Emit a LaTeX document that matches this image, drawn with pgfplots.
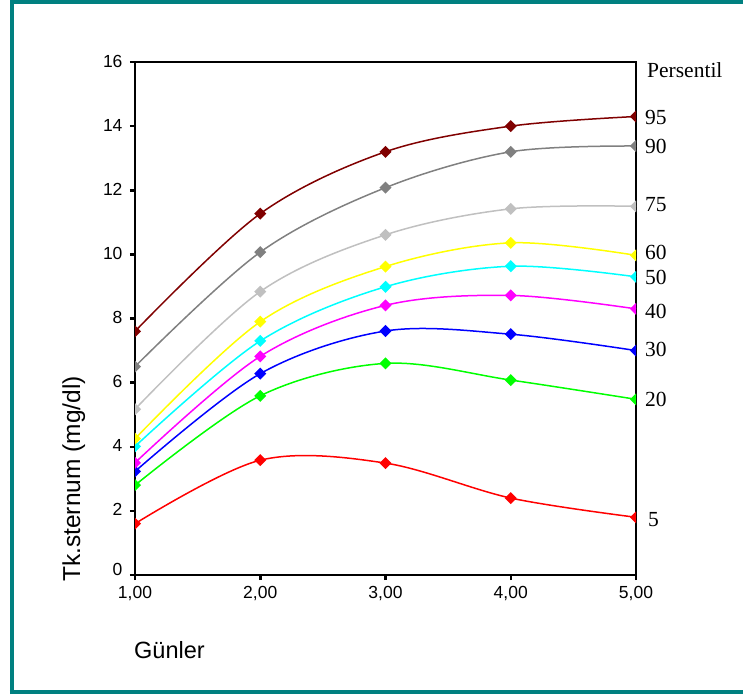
\documentclass[border=0pt]{standalone}
\usepackage{fontspec}
\setmainfont{Liberation Sans}
\newfontfamily\serifl{Liberation Serif}
\usepackage{pgfplots}
\pgfplotsset{compat=1.18}
\definecolor{frameteal}{RGB}{0,128,128}
\definecolor{c95}{RGB}{128,0,0}
\definecolor{c90}{RGB}{128,128,128}
\definecolor{c75}{RGB}{192,192,192}
\definecolor{c60}{RGB}{255,255,0}
\definecolor{c50}{RGB}{0,255,255}
\definecolor{c40}{RGB}{255,0,255}
\definecolor{c30}{RGB}{0,0,255}
\definecolor{c20}{RGB}{0,255,0}
\definecolor{c5}{RGB}{255,0,0}
\tikzset{pctlabel/.style={anchor=west, font=\serifl\fontsize{21.5}{24}\selectfont, inner sep=0pt}}
\begin{document}
\begin{tikzpicture}[x=1pt,y=1pt]
\useasboundingbox (-135,-119) rectangle (608,575);
\begin{scope}[shift={(-135,-119)}]
\draw[frameteal, line width=4pt] (12,0) -- (12,691.5) -- (745,691.5);
\draw[frameteal, line width=4pt] (10,2) -- (745,2);
\node[rotate=90, anchor=base, inner sep=0pt, font=\fontsize{24.5}{28}\selectfont] at (80,215) {Tk.sternum (mg/dl)};
\node[anchor=base west, inner sep=0pt, font=\fontsize{23.5}{28}\selectfont] at (134,36) {Günler};
\end{scope}
\begin{axis}[
  width=501pt, height=513pt, scale only axis,
  xmin=1, xmax=5, ymin=0, ymax=16,
  xtick={1,2,3,4,5},
  xticklabels={{1,00},{2,00},{3,00},{4,00},{5,00}},
  ytick={0,2,...,16},
  yticklabels={\raisebox{9pt}{0},2,4,6,8,10,12,14,16},
  tick pos=left, tick align=outside,
  major tick length=5pt,
  every tick/.style={black, line width=2.5pt},
  axis line style={black, line width=1.5pt},
  /pgf/number format/assume math mode=true,
  tick label style={font=\fontsize{17.5}{20}\selectfont},
  yticklabel style={xshift=-4pt, yshift=1pt},
  xticklabel style={yshift=-3pt},
  clip mode=individual, clip marker paths=true,
  every axis plot/.append style={line width=1.5pt, smooth, tension=0.55,
    mark=square*, mark size=3.5pt, mark options={rotate=45, solid}},
]
\addplot[color=c5] coordinates {(1,1.6)(2,3.58)(3,3.49)(4,2.4)(5,1.8)};
\addplot[color=c20] coordinates {(1,2.8)(2,5.59)(3,6.6)(4,6.08)(5,5.48)};
\addplot[color=c30] coordinates {(1,3.23)(2,6.28)(3,7.61)(4,7.51)(5,7.0)};
\addplot[color=c40] coordinates {(1,3.5)(2,6.82)(3,8.41)(4,8.72)(5,8.3)};
\addplot[color=c50] coordinates {(1,4.01)(2,7.3)(3,8.99)(4,9.63)(5,9.3)};
\addplot[color=c60] coordinates {(1,4.25)(2,7.9)(3,9.62)(4,10.36)(5,9.97)};
\addplot[color=c75] coordinates {(1,5.17)(2,8.84)(3,10.61)(4,11.42)(5,11.5)};
\addplot[color=c90] coordinates {(1,6.5)(2,10.07)(3,12.08)(4,13.2)(5,13.38)};
\addplot[color=c95] coordinates {(1,7.6)(2,11.27)(3,13.2)(4,14.0)(5,14.3)};
\node[pctlabel, xshift=11pt] at (axis cs:5,15.75) {Persentil};
\node[pctlabel, xshift=9pt] at (axis cs:5,14.28) {95};
\node[pctlabel, xshift=9pt] at (axis cs:5,13.38) {90};
\node[pctlabel, xshift=9pt] at (axis cs:5,11.54) {75};
\node[pctlabel, xshift=9pt] at (axis cs:5,10.07) {60};
\node[pctlabel, xshift=9pt] at (axis cs:5,9.29) {50};
\node[pctlabel, xshift=9pt] at (axis cs:5,8.23) {40};
\node[pctlabel, xshift=9pt] at (axis cs:5,7.02) {30};
\node[pctlabel, xshift=9pt] at (axis cs:5,5.49) {20};
\node[pctlabel, xshift=12pt] at (axis cs:5,1.72) {5};
\end{axis}
\end{tikzpicture}
\end{document}
